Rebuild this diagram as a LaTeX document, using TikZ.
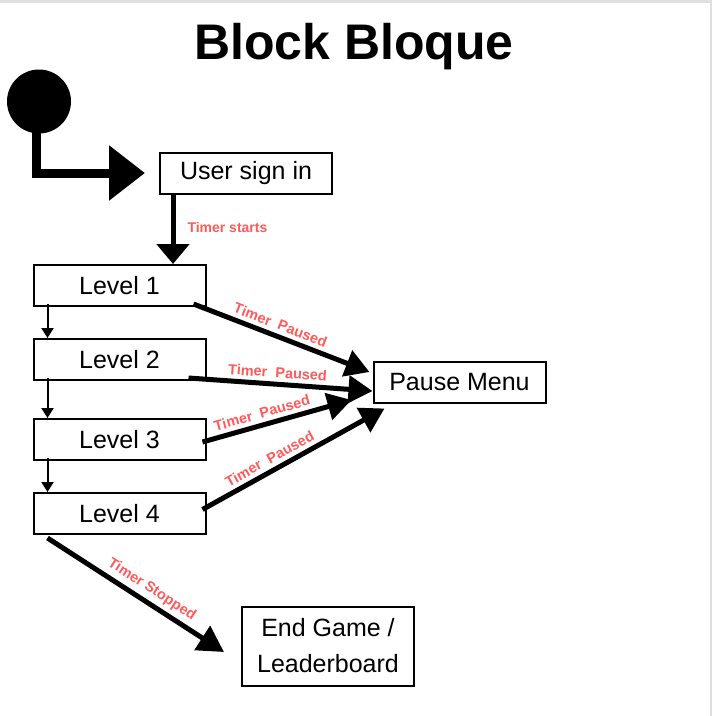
\documentclass[tikz,border=0pt]{standalone}
\usepackage{fontspec}
\setmainfont{Liberation Sans}
\usetikzlibrary{positioning,calc,arrows.meta}
\definecolor{timerred}{RGB}{255,90,90}

\begin{document}
\begin{tikzpicture}[x=1pt,y=-1pt,
		box/.style={draw,line width=2pt,minimum width=172pt,minimum height=41pt,inner sep=0pt,font=\fontsize{25}{29}\selectfont},
		timer/.style={text=timerred,font=\bfseries\fontsize{14.5}{16}\selectfont,inner sep=1pt},
		flow/.style={line width=5pt,-{Triangle[length=24pt,width=27pt]}},
		levelarrow/.style={line width=2pt,-{Triangle[length=10pt,width=12pt]}}]
	\fill[white] (0,0) rectangle (712,716);
	\fill[gray!25] (0,0) rectangle (712,2.5);
	\fill[gray!25] (709.5,0) rectangle (712,716);
	\useasboundingbox (0,0) rectangle (712,716);
	%
	\node[anchor=base,font=\bfseries\fontsize{50}{54}\selectfont] (title) at (354,59) {Block Bloque};
	\node[circle,fill,minimum size=64pt,inner sep=0pt] (start) at (39,101.5) {};
	\node[box] (signin) at (246,173) {User sign in};
	\node[box] (l1) at (119.5,285.5) {Level 1};
	\node[box,below=31pt of l1] (l2) {Level 2};
	\node[box,below=37pt of l2] (l3) {Level 3};
	\node[box,below=31pt of l3] (l4) {Level 4};
	\node[box] (pause) at (459.5,382) {Pause Menu};
	\node[box,minimum height=79pt,align=center,font=\fontsize{25}{36}\selectfont] (end) at (328,646) {End Game /\\Leaderboard};
	\coordinate (s0) at ($(signin.south west)+(14,0)$);
	%
	\draw[line width=9pt,-{Triangle[length=36pt,width=53pt]}] ($(start.center)+(-3,0)$) |- ($(signin.west)+(-14,0)$);
	\draw[line width=5pt,-{Triangle[length=20pt,width=32pt]}] (s0) -- node[timer,font=\bfseries\fontsize{14}{16}\selectfont,pos=0.47,right=11pt]{Timer starts} (s0 |- l1.north);
	\foreach \a/\b in {l1/l2,l2/l3,l3/l4}
		\draw[levelarrow] ($(\a.south west)+(15,-3)$) -- ($(\b.north west)+(15,0)$);
	%
	\draw[flow] ($(l1.south east)+(-13,-3)$) -- node[timer,sloped,above=3pt,pos=0.47]{Timer~~Paused} ($(pause.west)+(-3,-10)$);
	\draw[flow] ($(l2.south east)+(-18,-3)$) -- node[timer,sloped,above=3pt,pos=0.48]{Timer~~Paused} ($(pause.west)+(0,9)$);
	\draw[flow] ($(l3.east)+(-4,2.5)$) -- node[timer,sloped,above=3pt,pos=0.42]{Timer~~Paused} ($(pause.west)+(-21,18)$);
	\draw[flow] ($(l4.east)+(-4,-4)$) -- node[timer,sloped,above=3pt,pos=0.4]{Timer~~Paused} ($(pause.south west)+(12,5)$);
	\draw[line width=5pt,-{Triangle[length=26pt,width=28pt]}] ($(l4.south west)+(15,3)$) -- node[timer,sloped,above=3pt,pos=0.55]{Timer Stopped} ($(end.west)+(-17,6)$);
\end{tikzpicture}
\end{document}
